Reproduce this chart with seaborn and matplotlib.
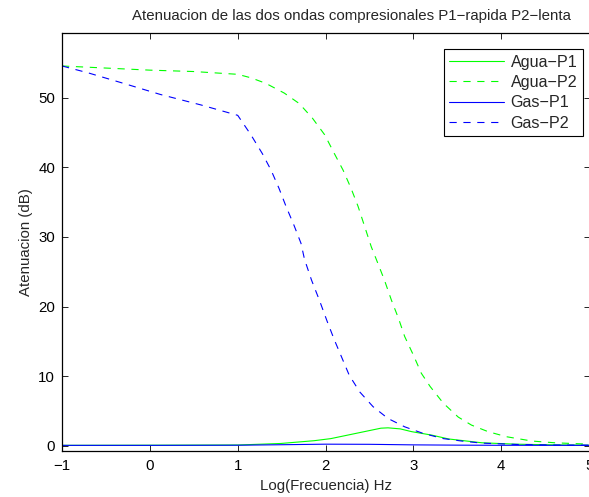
import matplotlib
matplotlib.use("Agg")
import matplotlib.pyplot as plt
import seaborn as sns
import pandas as pd

# ---- data ----
agua_p2_x = [-1, -0.5, 0, 0.5, 1.0, 1.15, 1.32, 1.53, 1.70, 1.85, 1.99, 2.10, 2.20, 2.29, 2.37,
             2.44, 2.52, 2.58, 2.67, 2.75, 2.83, 2.90, 3.0, 3.09, 3.19, 3.34, 3.51, 3.66, 3.85,
             4.06, 4.35, 4.61, 5.0]
agua_p2_y = [54.6, 54.3, 54.0, 53.8, 53.4, 52.9, 52.1, 50.7, 49.2, 47.1, 44.7, 42.0, 39.6, 37.0, 34.4,
             31.7, 28.6, 26.7, 23.8, 20.9, 18.3, 15.7, 13.0, 10.4, 8.5, 6.1, 4.1, 2.95, 2.0,
             1.27, 0.65, 0.4, 0.2]

gas_p2_x = [-1, -0.70, -0.30, 0.12, 0.58, 1.0, 1.15, 1.28, 1.38, 1.47, 1.55, 1.64, 1.72, 1.76,
            1.84, 1.93, 2.02, 2.10, 2.18, 2.27, 2.39, 2.54, 2.71, 2.90, 3.11, 3.34, 3.55, 3.78,
            4.2, 4.6, 5.0]
gas_p2_y = [54.6, 53.6, 52.1, 50.5, 49.0, 47.5, 44.7, 42.0, 39.6, 37.0, 34.4, 31.7, 29.1, 26.8,
            23.8, 20.9, 17.8, 15.2, 12.8, 10.1, 7.7, 5.6, 3.9, 2.7, 1.75, 1.0, 0.65, 0.35,
            0.15, 0.08, 0.05]

agua_p1_x = [-1, 0, 1.0, 1.49, 1.68, 1.87, 2.06, 2.25, 2.44, 2.63, 2.71, 2.85, 2.98, 3.21,
             3.40, 3.78, 4.16, 4.6, 5.0]
agua_p1_y = [0.03, 0.05, 0.08, 0.3, 0.5, 0.7, 1.0, 1.5, 2.0, 2.5, 2.55, 2.4, 2.0, 1.5,
             0.95, 0.4, 0.2, 0.1, 0.05]

gas_p1_x = [-1, 0, 1, 1.5, 2.0, 2.5, 3.0, 3.5, 4, 5]
gas_p1_y = [0.03, 0.03, 0.05, 0.12, 0.2, 0.18, 0.1, 0.06, 0.04, 0.03]

labels = ["Agua\u2212P1", "Agua\u2212P2", "Gas\u2212P1", "Gas\u2212P2"]
x_ticks = [-1, 0, 1, 2, 3, 4, 5]
y_ticks = [0, 10, 20, 30, 40, 50]

title = "Atenuacion de las dos ondas compresionales P1\u2212rapida P2\u2212lenta"
xlabel = "Log(Frecuencia) Hz"
ylabel = "Atenuacion (dB)"

# ---- style ----
sns.set_theme(style="white")
plt.rcParams["font.family"] = ["Liberation Sans", "DejaVu Sans"]
plt.rcParams["axes.unicode_minus"] = True
fs = 10.8

fig = plt.figure(figsize=(5.89, 4.97), dpi=100)
ax = fig.add_axes([0.1053, 0.093, 0.8964, 0.840])

series = [
    (agua_p1_x, agua_p1_y, labels[0], (0, 1, 0), "-"),
    (agua_p2_x, agua_p2_y, labels[1], (0, 1, 0), "--"),
    (gas_p1_x, gas_p1_y, labels[2], (0, 0, 1), "-"),
    (gas_p2_x, gas_p2_y, labels[3], (0, 0, 1), "--"),
]
for xs, ys, lab, col, ls in series:
    df = pd.DataFrame({"x": xs, "y": ys})
    kw = dict(dashes=(6.5, 6)) if ls == "--" else {}
    sns.lineplot(data=df, x="x", y="y", ax=ax, color=col, linewidth=0.8,
                 label=lab, sort=False, estimator=None, **kw)

ax.set_xlim(-1, 5.01)
ax.set_ylim(-0.75, 59.3)
ax.set_xticks(x_ticks)
ax.set_yticks(y_ticks)
ax.set_xticklabels([str(t).replace("-", "\u2212") for t in x_ticks], fontsize=fs)
ax.set_yticklabels([str(t) for t in y_ticks], fontsize=fs)
ax.tick_params(axis="x", pad=6)
ax.tick_params(axis="y", pad=5)
ax.tick_params(direction="in", length=4.5, width=0.6, top=True, right=True,
               colors="black", bottom=True, left=True)
for sp in ax.spines.values():
    sp.set_color("black")
    sp.set_linewidth(0.9)

ax.set_title(title, fontsize=fs, pad=9.5, x=0.549)
ax.set_xlabel(xlabel, fontsize=fs, labelpad=4)
ax.set_ylabel(ylabel, fontsize=fs, labelpad=4)

leg = ax.legend(loc="upper right", bbox_to_anchor=(0.9865, 0.962), borderaxespad=0,
                prop={"size": 11.6}, fancybox=False, framealpha=1, edgecolor="black",
                handlelength=3.4, labelspacing=0.33, borderpad=0.35, handletextpad=0.4)
leg.get_frame().set_linewidth(0.8)

fig.savefig("out.png", dpi=100)
